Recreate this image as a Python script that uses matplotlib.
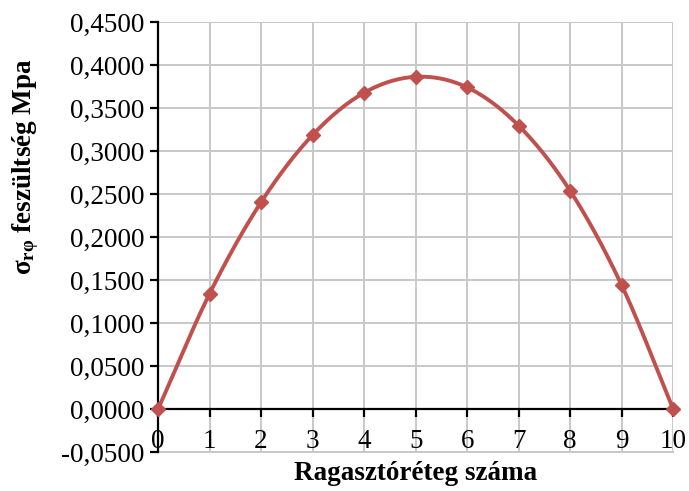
import numpy as np
import matplotlib
matplotlib.use("Agg")
import matplotlib.pyplot as plt
from matplotlib.ticker import FuncFormatter

plt.rcParams['font.family'] = ['Liberation Serif', 'DejaVu Serif']
plt.rcParams['mathtext.fontset'] = 'custom'
plt.rcParams['mathtext.rm'] = 'Liberation Serif'
plt.rcParams['mathtext.bf'] = 'Liberation Serif:bold'
plt.rcParams['mathtext.it'] = 'Liberation Serif:italic'

# Layer index and the shear stress in each adhesive layer
layers = [0, 1, 2, 3, 4, 5, 6, 7, 8, 9, 10]
stress = [0.0, 0.1342, 0.2406, 0.3187, 0.3678, 0.3863, 0.3740, 0.3295, 0.2537, 0.1439, 0.0]

x_ticks = list(range(0, 11))
y_ticks = [-0.05, 0.0, 0.05, 0.10, 0.15, 0.20, 0.25, 0.30, 0.35, 0.40, 0.45]

LINE_COLOR = '#C0504D'
GRID_COLOR = '#C8C8C8'


def smooth_curve(xs, ys, steps=40):
    """Catmull-Rom style smoothing through the measured points."""
    xs = np.asarray(xs, float)
    ys = np.asarray(ys, float)
    px = np.concatenate([[2 * xs[0] - xs[1]], xs, [2 * xs[-1] - xs[-2]]])
    py = np.concatenate([[2 * ys[0] - ys[1]], ys, [2 * ys[-1] - ys[-2]]])
    out_x, out_y = [], []
    t = np.linspace(0, 1, steps, endpoint=False)
    for i in range(1, len(px) - 2):
        p0, p1, p2, p3 = (np.array([px[j], py[j]]) for j in range(i - 1, i + 3))
        m1 = (p2 - p0) / 2
        m2 = (p3 - p1) / 2
        h00 = 2 * t**3 - 3 * t**2 + 1
        h10 = t**3 - 2 * t**2 + t
        h01 = -2 * t**3 + 3 * t**2
        h11 = t**3 - t**2
        seg = (h00[:, None] * p1 + h10[:, None] * m1
               + h01[:, None] * p2 + h11[:, None] * m2)
        out_x.extend(seg[:, 0])
        out_y.extend(seg[:, 1])
    out_x.append(xs[-1])
    out_y.append(ys[-1])
    return np.array(out_x), np.array(out_y)


fig = plt.figure(figsize=(6.89, 4.91), dpi=100)
ax = fig.add_axes([158 / 689, 1 - 452.3 / 491, (673.3 - 158) / 689, (452.3 - 22) / 491])

ax.set_xlim(0, 10)
ax.set_ylim(-0.05, 0.45)
ax.set_xticks(x_ticks)
ax.set_yticks(y_ticks)
ax.yaxis.set_major_formatter(FuncFormatter(lambda v, _: f"{v:.4f}".replace('.', ',').replace('-0,0000', '0,0000')))

ax.grid(True, color=GRID_COLOR, linewidth=1.4, zorder=0)
ax.set_axisbelow(True)

for side in ('top', 'right'):
    ax.spines[side].set_visible(False)
ax.spines['bottom'].set_position(('data', 0))
ax.spines['bottom'].set_linewidth(1.6)
ax.spines['left'].set_linewidth(1.6)

# grey frame line at the plot-area bottom edge
ax.axhline(-0.05, color=GRID_COLOR, linewidth=1.4, zorder=0, clip_on=False)

ax.tick_params(axis='both', direction='out', length=6, width=1.6, labelsize=19.5, color='black')
ax.tick_params(axis='x', pad=8)
ax.tick_params(axis='y', pad=4)

sx, sy = smooth_curve(layers, stress)
ax.plot(sx, sy, color=LINE_COLOR, linewidth=2.8, zorder=3, clip_on=False, solid_capstyle='round')
ax.plot(layers, stress, linestyle='none', marker='D', markersize=7, color=LINE_COLOR, zorder=4, clip_on=False)

ax.set_xlabel('Ragasztóréteg száma', fontsize=19.5, fontweight='bold')
ax.xaxis.set_label_coords(0.5, (452.3 - 474) / 430.3)
ax.xaxis.label.set_va('center')

ax.set_ylabel(r'$\mathbf{σ_{rφ}}$ feszültség Mpa', fontsize=19.5, fontweight='bold')
ax.yaxis.set_label_coords((26 - 158) / 515.3, (452.3 - 167) / 430.3)
ax.yaxis.label.set_va('center')

fig.savefig('out.png', dpi=100)
